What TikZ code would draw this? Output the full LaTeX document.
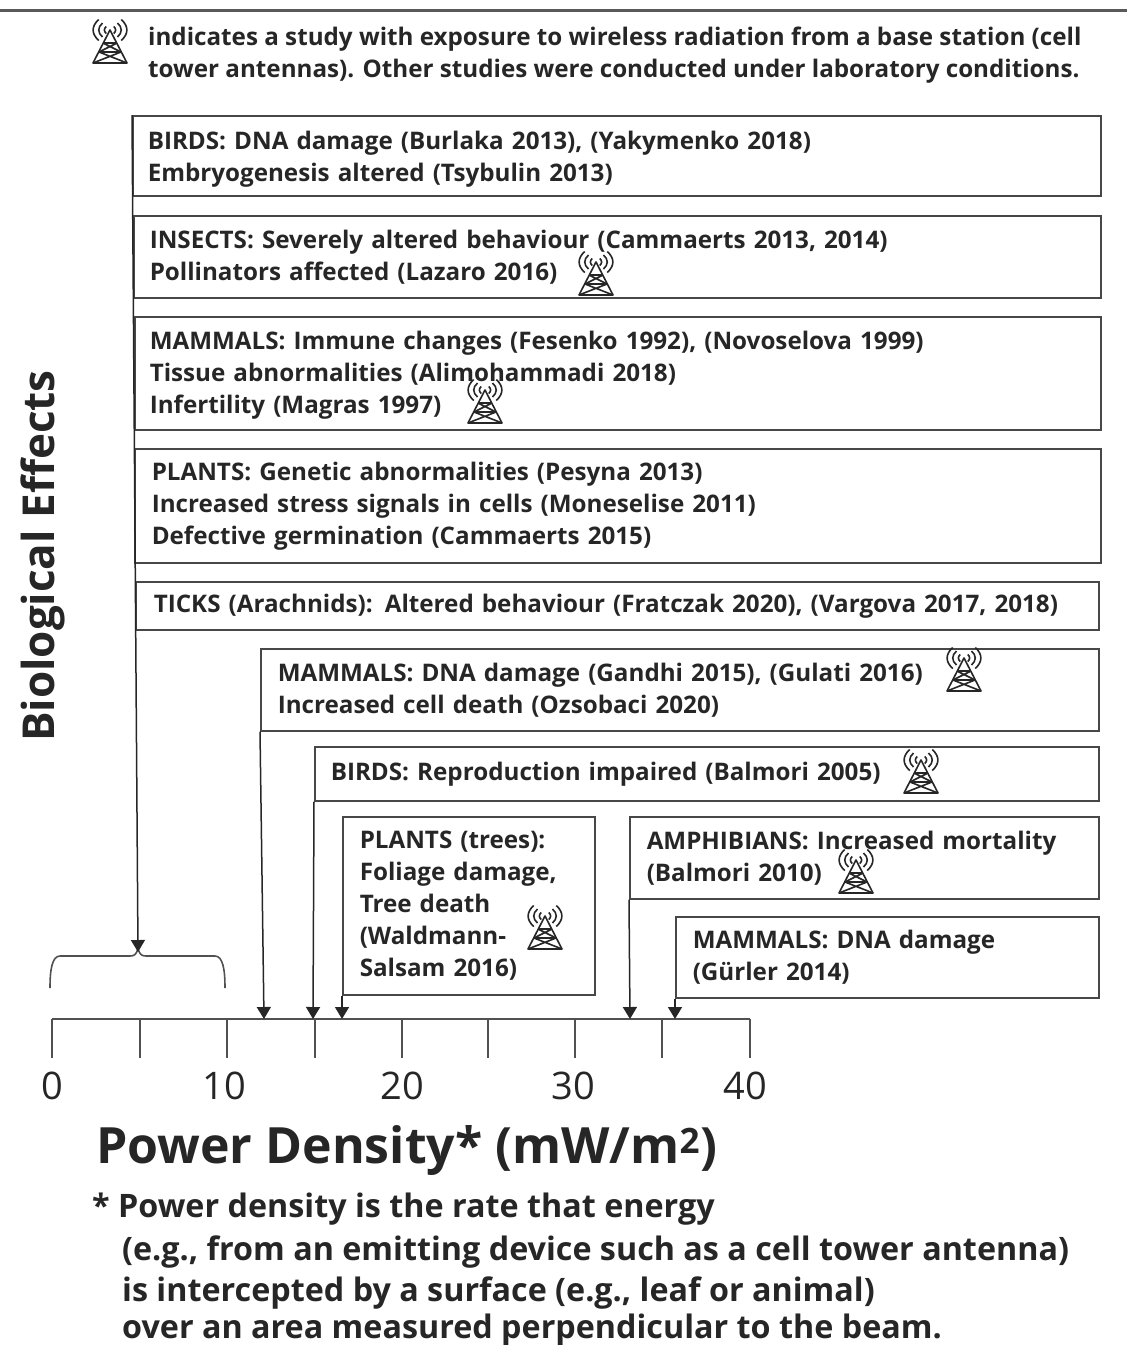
\documentclass[tikz,border=0pt]{standalone}
\usepackage{fontspec}
\setmainfont{Open Sans}
\usetikzlibrary{arrows.meta}
\definecolor{ink}{HTML}{262626}
\tikzset{
 x=1pt,y=-1pt,
 box/.style={draw=ink!85,line width=1.5pt,anchor=north west,inner ysep=0pt,align=left,text=ink,font=\fontsize{24.2}{32}\selectfont\bfseries},
 lab/.style={inner sep=0pt,text=ink,font=\fontsize{24.2}{32}\selectfont\bfseries},
 link/.style={draw=ink,line width=1.5pt},
 arr/.style={link,-{Triangle[width=14pt,length=12pt]}},
 axisline/.style={draw=ink!80,line width=1.6pt},
 ticklab/.style={inner sep=0pt,text=ink,font=\fontsize{38}{42}\selectfont},
 foot/.style={inner sep=0pt,anchor=west,text=ink,font=\fontsize{32.3}{38}\selectfont\bfseries},
 tower/.pic={
  \begin{scope}[draw=ink,line width=1.6pt,line join=round]
   \draw (0,-13) -- (-17,20) -- (17,20) -- cycle;
   \draw (-7,0) -- (7,0);
   \draw (-7,0) -- (11,9) (7,0) -- (-11,9);
   \draw (-11,9) -- (11,9) (-11,9) -- (17,20) (11,9) -- (-17,20);
   \foreach \r in {5,10,15}
   {
    \draw ({-0.75*\r},{-13-0.7*\r}) .. controls ({-1.25*\r},{-13-0.25*\r}) and ({-1.25*\r},{-13+0.25*\r}) .. ({-0.75*\r},{-13+0.7*\r});
    \draw ({0.75*\r},{-13-0.7*\r}) .. controls ({1.25*\r},{-13-0.25*\r}) and ({1.25*\r},{-13+0.25*\r}) .. ({0.75*\r},{-13+0.7*\r});
   }
  \end{scope}
 }
}
\newcommand{\boxnode}[7]{% name x1 y1 x2 y2 textx text
 \pgfmathsetlengthmacro{\bw}{(#4-#2)*1pt}
 \pgfmathsetlengthmacro{\bh}{(#5-#3)*1pt}
 \pgfmathsetlengthmacro{\bs}{(#6-#2)*1pt}
 \node[box,minimum width=\bw,minimum height=\bh,inner xsep=\bs,text width=\bw-2*\bs] (#1) at (#2,#3) {#7};
}
\begin{document}
\begin{tikzpicture}
\useasboundingbox (0,0) rectangle (1127,1345);
\draw[draw=black!65,line width=3pt] (0,10) -- (1127,10);

\pic at (110,43) {tower};
\node[lab,anchor=north west,align=left] (legend) at (148,27) {indicates a study with exposure to wireless radiation from a base station (cell\\tower antennas). Other studies were conducted under laboratory conditions.};

\boxnode{b1}{132}{115}{1100}{195}{147}{\rule{0pt}{26pt}BIRDS: DNA damage (Burlaka 2013), (Yakymenko 2018)\\Embryogenesis altered (Tsybulin 2013)}
\boxnode{b2}{133}{215}{1100}{297}{149}{INSECTS: Severely altered behaviour (Cammaerts 2013, 2014)\\Pollinators affected (Lazaro 2016)}
\boxnode{b3}{134}{316}{1100}{429}{149}{\rule{0pt}{22pt}MAMMALS: Immune changes (Fesenko 1992), (Novoselova 1999)\\Tissue abnormalities (Alimohammadi 2018)\\Infertility (Magras 1997)}
\boxnode{b4}{134}{448}{1100}{562}{151}{PLANTS: Genetic abnormalities (Pesyna 2013)\\Increased stress signals in cells (Moneselise 2011)\\Defective germination (Cammaerts 2015)}
\boxnode{b5}{135}{581}{1098}{629}{153}{TICKS (Arachnids): Altered behaviour (Fratczak 2020), (Vargova 2017, 2018)}
\boxnode{b6}{260}{648}{1098}{730}{277}{MAMMALS: DNA damage (Gandhi 2015), (Gulati 2016)\\Increased cell death (Ozsobaci 2020)}
\boxnode{b7}{314}{746}{1098}{800}{330}{BIRDS: Reproduction impaired (Balmori 2005)}
\boxnode{b8}{342}{816}{594}{994}{359}{PLANTS (trees):\\Foliage damage,\\Tree death\\(Waldmann-\\Salsam 2016)}
\boxnode{b9}{629}{816}{1098}{898}{646}{AMPHIBIANS: Increased mortality\\(Balmori 2010)}
\boxnode{b10}{675}{916}{1098}{997}{692}{MAMMALS: DNA damage\\(Gürler 2014)}

\pic at (596,275) {tower};
\pic at (485,403) {tower};
\pic at (964,671) {tower};
\pic at (921,773) {tower};
\pic at (856,873) {tower};
\pic at (545,929) {tower};

% brace
\coordinate (bracetip) at (138,952);
\draw[axisline] (50,988) .. controls (50,970) and (52,956) .. (60,956) -- (130,956) .. controls (135,956) and (136,954) .. (138,949) .. controls (140,954) and (141,956) .. (146,956) -- (215,956) .. controls (223,956) and (225,970) .. (225,988);

% axis
\coordinate (a0) at (52,1019);
\coordinate (a40) at (750,1019);
\draw[axisline] (a0) -- (a40);
\foreach \x in {52,140,227,315,402,488,575,662,750}
  \draw[axisline] (\x,1019) -- (\x,1058);
\node[ticklab] (t0) at (52,1086) {0};
\node[ticklab] (t10) at (224,1086) {10};
\node[ticklab] (t20) at (402,1086) {20};
\node[ticklab] (t30) at (573,1086) {30};
\node[ticklab] (t40) at (745,1086) {40};

% connectors
\coordinate (e1) at (264,1019);
\coordinate (e2) at (313,1019);
\coordinate (e3) at (342,1019);
\coordinate (e4) at (630,1019);
\coordinate (e5) at (675,1019);
\draw[arr] (b1.north west) -- (bracetip);
\draw[arr] (b6.south west) -- (e1);
\draw[arr] (b7.south west) -- (e2);
\draw[arr] (b8.south west) -- (e3);
\draw[arr] (b9.south west) -- (e4);
\draw[arr] (b10.south west) -- (e5);

\node[inner sep=0pt,rotate=90,text=ink,font=\fontsize{44}{48}\selectfont\bfseries] (ylab) at (43,556) {Biological Effects};
\node[inner sep=0pt,anchor=west,text=ink,font=\fontsize{50}{54}\selectfont\bfseries] (xlab) at (96,1150) {Power Density* (mW/m\textsuperscript{2})};

\node[foot] (f1) at (92,1209) {* Power density is the rate that energy};
\node[foot] (f2) at (122,1252) {(e.g., from an emitting device such as a cell tower antenna)};
\node[foot] (f3) at (122,1293) {is intercepted by a surface (e.g., leaf or animal)};
\node[foot] (f4) at (122,1330) {over an area measured perpendicular to the beam.};
\end{tikzpicture}
\end{document}
